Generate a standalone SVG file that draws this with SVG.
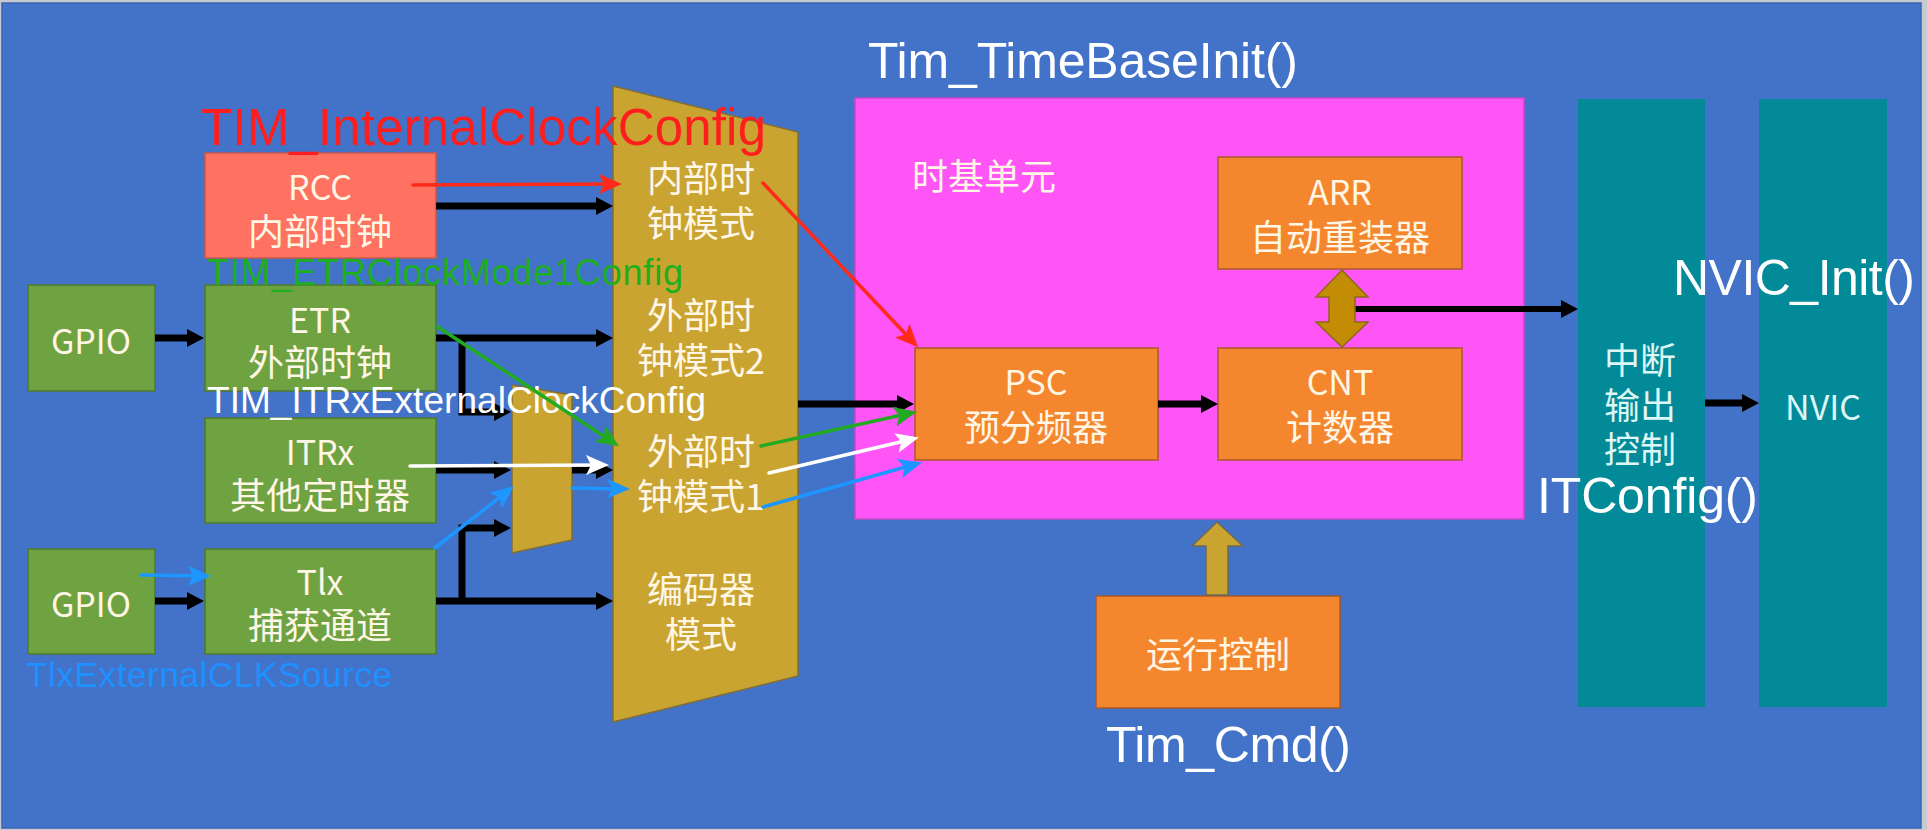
<svg xmlns="http://www.w3.org/2000/svg" width="1927" height="830" viewBox="0 0 1927 830">
<style>
.box{stroke-width:1.5}
.green{fill:#6FA240;stroke:#4F7A2E}
.orange{fill:#F4862E;stroke:#A85A2A}
.rcc{fill:#FF7262;stroke:#C85A4A}
.gold{fill:#C9A431;stroke:#7E6E3A;stroke-width:1.5}
.teal{fill:#038A98}
.t{font-family:"Noto Sans CJK SC","Noto Sans",sans-serif;font-size:36px;fill:#FFF6E6;text-anchor:middle;dominant-baseline:central}
.tl{font-family:"Noto Sans CJK SC","Noto Sans",sans-serif;font-size:34px;fill:#FFF6E6;text-anchor:middle;dominant-baseline:central}
.tc{fill:#DDF6F6}
.lab{font-family:"Liberation Sans",Arial,sans-serif}
.blk{fill:none;stroke:#000;stroke-width:7;marker-end:url(#ab)}
.col{fill:none;stroke-width:3.5;stroke-linecap:round}
</style>
<defs>
<marker id="ab" markerUnits="userSpaceOnUse" markerWidth="18" markerHeight="18" refX="8" refY="9" orient="auto"><path d="M0,0 L17,9 L0,18 z" fill="#000"/></marker>
<marker id="ar" markerUnits="userSpaceOnUse" markerWidth="24" markerHeight="20" refX="17" refY="10" orient="auto"><path d="M0,0 L23,10 L0,20 L5,10 z" fill="#FF2A1A"/></marker>
<marker id="ag" markerUnits="userSpaceOnUse" markerWidth="24" markerHeight="20" refX="17" refY="10" orient="auto"><path d="M0,0 L23,10 L0,20 L5,10 z" fill="#22AA22"/></marker>
<marker id="aw" markerUnits="userSpaceOnUse" markerWidth="24" markerHeight="20" refX="17" refY="10" orient="auto"><path d="M0,0 L23,10 L0,20 L5,10 z" fill="#FFFFFF"/></marker>
<marker id="au" markerUnits="userSpaceOnUse" markerWidth="24" markerHeight="20" refX="17" refY="10" orient="auto"><path d="M0,0 L23,10 L0,20 L5,10 z" fill="#1E96FF"/></marker>
</defs>

<rect x="0" y="0" width="1927" height="830" fill="#C4C9D2"/>
<rect x="2" y="3" width="1919" height="825" fill="#4373C8" stroke="#3A64B2" stroke-width="1.5"/>

<g id="node-timebase">
<rect class="box" x="855" y="98" width="669" height="421" fill="#FF55F7" stroke="#C84AC8"/>
<text class="t" x="912" y="174" style="text-anchor:start">时基单元</text>
</g>

<g id="node-mux">
<polygon class="gold" points="613,86 798,132 798,676 613,722"/>
<text class="t" x="701" y="176">内部时</text>
<text class="t" x="701" y="221">钟模式</text>
<text class="t" x="701" y="313">外部时</text>
<text class="t" x="701" y="358">钟模式2</text>
<text class="t" x="701" y="449">外部时</text>
<text class="t" x="701" y="494">钟模式1</text>
<text class="t" x="701" y="587">编码器</text>
<text class="t" x="701" y="632">模式</text>
</g>

<g id="node-smallmux">
<polygon class="gold" points="512,385 572,395 572,540 512,553"/>
</g>

<g id="node-rcc">
<rect class="box rcc" x="205" y="153" width="231" height="105"/>
<text class="tl" x="320" y="185">RCC</text>
<text class="t" x="320" y="229">内部时钟</text>
</g>

<g id="node-gpio1">
<rect class="box green" x="28" y="285" width="127" height="106"/>
<text class="tl" x="91" y="339">GPIO</text>
</g>

<g id="node-etr">
<rect class="box green" x="205" y="285" width="231" height="106"/>
<text class="tl" x="320" y="318">ETR</text>
<text class="t" x="320" y="360">外部时钟</text>
</g>

<g id="node-itrx">
<rect class="box green" x="205" y="418" width="231" height="105"/>
<text class="tl" x="320" y="450">ITRx</text>
<text class="t" x="320" y="493">其他定时器</text>
</g>

<g id="node-gpio2">
<rect class="box green" x="28" y="549" width="127" height="105"/>
<text class="tl" x="91" y="602">GPIO</text>
</g>

<g id="node-tix">
<rect class="box green" x="205" y="549" width="231" height="105"/>
<text class="tl" x="320" y="580">Tlx</text>
<text class="t" x="320" y="623">捕获通道</text>
</g>

<g id="node-arr">
<rect class="box orange" x="1218" y="157" width="244" height="112"/>
<text class="tl" x="1340" y="190">ARR</text>
<text class="t" x="1340" y="235">自动重装器</text>
</g>

<g id="node-psc">
<rect class="box orange" x="915" y="348" width="243" height="112"/>
<text class="tl" x="1036" y="380">PSC</text>
<text class="t" x="1036" y="425">预分频器</text>
</g>

<g id="node-cnt">
<rect class="box orange" x="1218" y="348" width="244" height="112"/>
<text class="tl" x="1340" y="380">CNT</text>
<text class="t" x="1340" y="425">计数器</text>
</g>

<g id="node-run">
<rect class="box orange" x="1096" y="596" width="244" height="112"/>
<text class="t" x="1218" y="652">运行控制</text>
</g>

<g id="node-itout">
<rect class="teal" x="1578" y="99" width="127" height="608"/>
<text class="t tc" x="1640" y="358">中断</text>
<text class="t tc" x="1640" y="403">输出</text>
<text class="t tc" x="1640" y="447">控制</text>
</g>

<g id="node-nvic">
<rect class="teal" x="1759" y="99" width="128" height="608"/>
<text class="tl tc" x="1823" y="405">NVIC</text>
</g>

<g id="connectors">
<path class="blk" d="M436,206 H604"/>
<path class="blk" d="M155,338 H195"/>
<path class="blk" d="M436,338 H604"/>
<path class="blk" d="M462,338 V412 H502"/>
<path class="blk" d="M436,470 H502"/>
<path class="blk" d="M572,470 H604"/>
<path class="blk" d="M155,601 H195"/>
<path class="blk" d="M436,601 H604"/>
<path class="blk" d="M462,601 V528 H502"/>
<path class="blk" d="M798,404 H905"/>
<path class="blk" d="M1158,404 H1209"/>
<path class="blk" d="M1355,309 H1569" style="stroke-width:6"/>
<path class="blk" d="M1705,403 H1750"/>
<polygon points="1342,270 1368,297 1355,297 1355,322 1368,322 1342,347 1316,322 1329,322 1329,297 1316,297" fill="#C38C05" stroke="#8A6A18" stroke-width="1.5"/>
<polygon points="1217,522 1243,546 1228,546 1228,595 1206,595 1206,546 1192,546" fill="#C9A431" stroke="#6E6A52" stroke-width="1.5"/>
</g>

<g id="labels" class="lab">
<text x="868" y="78" font-size="50" fill="#FFFFFF" textLength="430">Tim_TimeBaseInit()</text>
<text x="1673" y="295" font-size="50" fill="#FFFFFF" textLength="242">NVIC_Init()</text>
<text x="1537" y="513" font-size="50" fill="#FFFFFF" textLength="221">ITConfig()</text>
<text x="1106" y="762" font-size="50" fill="#FFFFFF" textLength="245">Tim_Cmd()</text>
<text x="201" y="145" font-size="51" fill="#FF1E1E" textLength="565">TIM_InternalClockConfig</text>
<text x="207" y="285" font-size="36" fill="#1DAF1D" textLength="476">TIM_ETRClockMode1Config</text>
<text x="207" y="413" font-size="37" fill="#FFFFFF" textLength="499">TIM_ITRxExternalClockConfig</text>
<text x="26" y="687" font-size="35" fill="#1E90FF" textLength="366">TlxExternalCLKSource</text>
</g>

<g id="annotation-arrows">
<path class="col" d="M413,185 L616,184" stroke="#FF2A1A" marker-end="url(#ar)"/>
<path class="col" d="M763,183 L914,343" stroke="#FF2A1A" marker-end="url(#ar)"/>
<path class="col" d="M438,327 L614,443" stroke="#22AA22" marker-end="url(#ag)"/>
<path class="col" d="M761,446 L911,413" stroke="#22AA22" marker-end="url(#ag)"/>
<path class="col" d="M410,466 L603,465" stroke="#FFFFFF" marker-end="url(#aw)"/>
<path class="col" d="M769,473 L913,439" stroke="#FFFFFF" marker-end="url(#aw)"/>
<path class="col" d="M141,575 L205,576" stroke="#1E96FF" marker-end="url(#au)"/>
<path class="col" d="M435,548 L509,490" stroke="#1E96FF" marker-end="url(#au)"/>
<path class="col" d="M572,488 L624,489" stroke="#1E96FF" marker-end="url(#au)"/>
<path class="col" d="M763,507 L916,464" stroke="#1E96FF" marker-end="url(#au)"/>
</g>
</svg>
